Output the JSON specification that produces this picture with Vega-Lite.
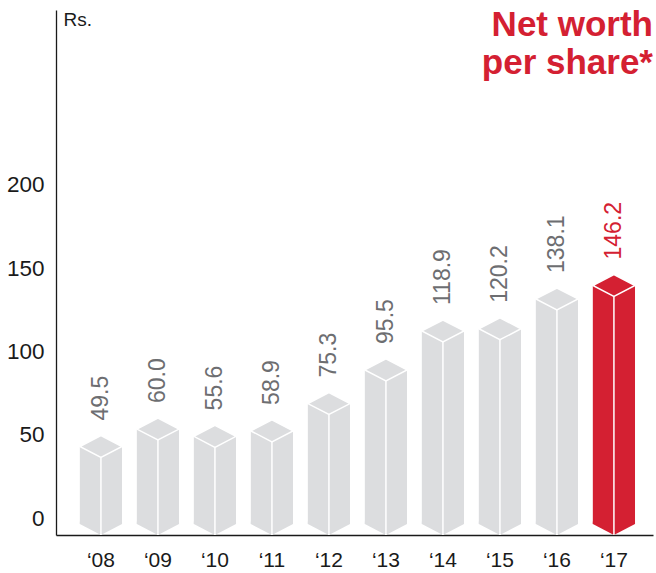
{
  "$schema": "https://vega.github.io/schema/vega-lite/v6.json",
  "width": 597,
  "height": 525,
  "autosize": {"type": "none"},
  "padding": {"left": 56, "top": 10, "right": 3, "bottom": 38},
  "background": "white",
  "title": {
    "text": ["Net worth", "per share*"],
    "anchor": "end",
    "frame": "group",
    "orient": "top",
    "baseline": "top",
    "offset": 0,
    "dy": 71,
    "fontSize": 35,
    "fontWeight": "bold",
    "color": "#d42032",
    "font": "Liberation Sans",
    "lineHeight": 38
  },
  "data": {
    "values": [
      {"year": "‘08", "value": 49.5, "period": "past"},
      {"year": "‘09", "value": 60.0, "period": "past"},
      {"year": "‘10", "value": 55.6, "period": "past"},
      {"year": "‘11", "value": 58.9, "period": "past"},
      {"year": "‘12", "value": 75.3, "period": "past"},
      {"year": "‘13", "value": 95.5, "period": "past"},
      {"year": "‘14", "value": 118.9, "period": "past"},
      {"year": "‘15", "value": 120.2, "period": "past"},
      {"year": "‘16", "value": 138.1, "period": "past"},
      {"year": "‘17", "value": 146.2, "period": "current"}
    ]
  },
  "encoding": {
    "x": {
      "field": "year",
      "type": "nominal",
      "sort": null,
      "scale": {"type": "band", "paddingInner": 0.26, "paddingOuter": 0.367, "align": 0.57},
      "axis": {
        "title": null,
        "ticks": false,
        "domain": true,
        "domainColor": "#1a1a1a",
        "domainWidth": 1.3,
        "labelAngle": 0,
        "labelFontSize": 21,
        "labelFont": "Liberation Sans",
        "labelColor": "#1a1a1a",
        "labelPadding": 14
      }
    }
  },
  "layer": [
    {
      "mark": {"type": "bar", "yOffset": 11, "y2Offset": 6},
      "encoding": {
        "y": {
          "field": "value",
          "type": "quantitative",
          "scale": {"domain": [-10.2, 305], "nice": false, "zero": false},
          "axis": {
            "values": [0, 50, 100, 150, 200],
            "grid": false,
            "ticks": false,
            "domain": true,
            "domainColor": "#1a1a1a",
            "domainWidth": 1.3,
            "labelFontSize": 22.5,
            "labelFont": "Liberation Sans",
            "labelColor": "#1a1a1a",
            "labelPadding": 12,
            "title": "Rs.",
            "titleAngle": 0,
            "titleAlign": "left",
            "titleBaseline": "alphabetic",
            "titleX": 7,
            "titleY": 15,
            "titleFontSize": 19,
            "titleFontWeight": "normal",
            "titleFont": "Liberation Sans",
            "titleColor": "#1a1a1a"
          }
        },
        "y2": {"datum": 0},
        "color": {
          "field": "period",
          "type": "nominal",
          "scale": {"domain": ["past", "current"], "range": ["#dcdddf", "#d42032"]},
          "legend": null
        }
      }
    },
    {
      "mark": {
        "type": "point",
        "shape": "M -1 -0.12 L 1 -0.12 L 1 0 L 0 0.52 L -1 0 Z",
        "size": 1780,
        "filled": true,
        "opacity": 1,
        "strokeWidth": 0,
        "yOffset": 6
      },
      "encoding": {
        "y": {"datum": 0},
        "color": {
          "field": "period",
          "type": "nominal",
          "scale": {"domain": ["past", "current"], "range": ["#dcdddf", "#d42032"]},
          "legend": null
        }
      }
    },
    {
      "mark": {
        "type": "point",
        "shape": "M 0 0 L 1 0.52 L 0 1.04 L -1 0.52 Z",
        "size": 1780,
        "filled": true,
        "opacity": 1,
        "stroke": "white",
        "strokeWidth": 1.5,
        "strokeOpacity": 1
      },
      "encoding": {
        "y": {"field": "value", "type": "quantitative"},
        "color": {
          "field": "period",
          "type": "nominal",
          "scale": {"domain": ["past", "current"], "range": ["#dcdddf", "#d42032"]},
          "legend": null
        }
      }
    },
    {
      "mark": {"type": "rule", "color": "white", "strokeWidth": 1.5, "yOffset": 22, "y2Offset": 17},
      "encoding": {
        "y": {"field": "value", "type": "quantitative"},
        "y2": {"datum": 0}
      }
    },
    {
      "mark": {
        "type": "text",
        "angle": 270,
        "align": "left",
        "baseline": "middle",
        "fontSize": 23,
        "font": "Liberation Sans",
        "yOffset": -15
      },
      "encoding": {
        "y": {"field": "value", "type": "quantitative"},
        "text": {"field": "value", "type": "quantitative", "format": ".1f"},
        "color": {
          "field": "period",
          "type": "nominal",
          "scale": {"domain": ["past", "current"], "range": ["#6d6e71", "#d42032"]},
          "legend": null
        }
      }
    }
  ],
  "resolve": {"scale": {"color": "independent"}},
  "config": {
    "view": {"stroke": null},
    "font": "Liberation Sans"
  }
}
